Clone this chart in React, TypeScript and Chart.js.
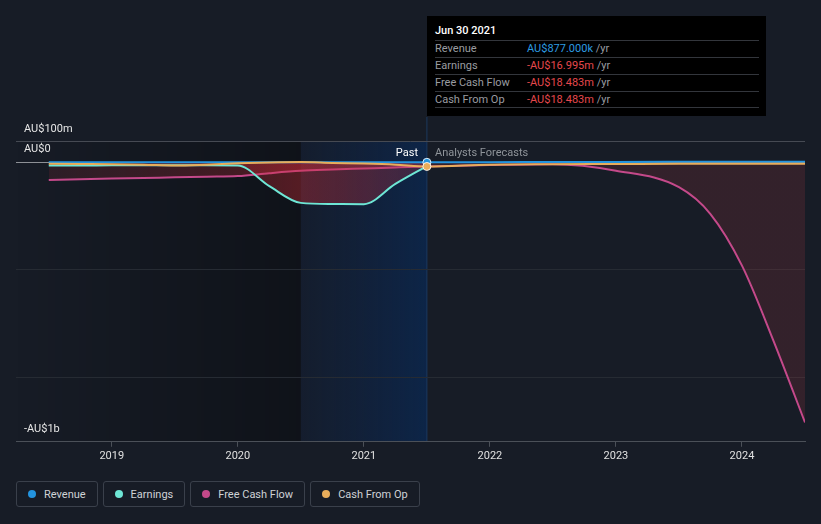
import React, { useEffect, useRef } from "react";
import { Chart, registerables } from "chart.js";

Chart.register(...registerables);

// ---------- data (values in AU$ millions, x in decimal years) ----------
const pastYears = [2018.5, 2018.75, 2019, 2019.25, 2019.5, 2019.75, 2020, 2020.25, 2020.5, 2020.75, 2021, 2021.25, 2021.5];
const revenuePast = [1.2, 1.1, 1.0, 1.0, 0.9, 0.9, 0.8, 0.8, 0.9, 0.9, 0.9, 0.9, 0.877];
const earningsPast = [-14, -14, -13, -13, -13, -13, -14, -110, -188, -193, -194, -100, -16.995];
const fcfPast = [-81, -78, -75, -72, -69, -66, -63, -50, -39, -33, -28, -23, -18.483];
const cfoPast = [-6, -7, -8, -10, -14, -10, -4, 0, 2, -2, -5, -10, -18.483];

const forecastYears = [2021.5, 2022, 2022.5, 2023, 2023.5, 2023.75, 2024, 2024.25, 2024.5];
const revenueForecast = [0.877, 1.5, 2, 2.5, 3, 3.2, 3.5, 3.8, 4];
const fcfForecast = [-18.483, -12, -8, -38, -115, -240, -480, -830, -1210];
const cfoForecast = [-18.483, -10, -8, -7, -6, -6, -6, -6, -6];

const xTickYears = [2019, 2020, 2021, 2022, 2023, 2024];
const yGridValues = [100, 0, -500, -1000];
const yLabelTop = "AU$100m";
const yLabelZero = "AU$0";
const yLabelBottom = "-AU$1b";
const yMin = -1300;
const yMax = 100;
const xMin = 2018.24;
const xMax = 2024.5;
const pastShadeStart = 2020.5;
const nowYear = 2021.5;

const legendItems = [
  { label: "Revenue", color: "#2394df" },
  { label: "Earnings", color: "#6ee6d5" },
  { label: "Free Cash Flow", color: "#c4498a" },
  { label: "Cash From Op", color: "#e8ad5b" },
];

const tooltipTitle = "Jun 30 2021";
const tooltipRows = [
  { label: "Revenue", value: "AU$877.000k", color: "#2d9be0" },
  { label: "Earnings", value: "-AU$16.995m", color: "#e5484d" },
  { label: "Free Cash Flow", value: "-AU$18.483m", color: "#e5484d" },
  { label: "Cash From Op", value: "-AU$18.483m", color: "#e5484d" },
];

const BG = "#171c26";
const FONT = "Roboto, 'Noto Sans', sans-serif";

function pts(xs: number[], ys: number[]) {
  return xs.map((x, i) => ({ x, y: ys[i] }));
}

function fillGradient(ctx: any) {
  const chart = ctx.chart;
  const a = chart.chartArea;
  const x = chart.scales.x;
  if (!a || !x) return "rgba(190,60,70,0.17)";
  const c = chart.ctx as CanvasRenderingContext2D;
  const g = c.createLinearGradient(a.left, 0, a.right, 0);
  const w = a.right - a.left;
  const pos = (v: number) => Math.min(1, Math.max(0, (x.getPixelForValue(v) - a.left) / w));
  g.addColorStop(pos(2018.5), "rgba(200,50,60,0.13)");
  g.addColorStop(pos(2020.0), "rgba(205,45,55,0.27)");
  g.addColorStop(pos(2020.5), "rgba(210,45,55,0.36)");
  g.addColorStop(pos(2021.49), "rgba(190,50,70,0.26)");
  g.addColorStop(pos(2021.55), "rgba(190,60,70,0.17)");
  g.addColorStop(1, "rgba(190,60,70,0.17)");
  return g;
}

const shadePlugin = {
  id: "shade",
  beforeDraw(chart: any) {
    const { ctx, chartArea: a, scales } = chart;
    const x = scales.x;
    const x0 = a.left;
    const x1 = x.getPixelForValue(pastShadeStart);
    const x2 = x.getPixelForValue(nowYear);
    ctx.save();
    let g = ctx.createLinearGradient(x0, 0, x1, 0);
    g.addColorStop(0, "rgba(0,0,0,0)");
    g.addColorStop(1, "rgba(0,0,0,0.33)");
    ctx.fillStyle = g;
    ctx.fillRect(x0, a.top, x1 - x0, a.bottom - a.top);
    g = ctx.createLinearGradient(x1, 0, x2, 0);
    g.addColorStop(0, "rgba(10,40,90,0.15)");
    g.addColorStop(1, "rgba(5,45,100,0.55)");
    ctx.fillStyle = g;
    ctx.fillRect(x1, a.top, x2 - x1, a.bottom - a.top);
    ctx.strokeStyle = "rgba(28,60,100,0.75)";
    ctx.lineWidth = 1.2;
    ctx.beginPath();
    ctx.moveTo(x2, 117);
    ctx.lineTo(x2, a.bottom);
    ctx.stroke();
    ctx.restore();
  },
  afterDraw(chart: any) {
    const { ctx, chartArea: a, scales } = chart;
    const y = scales.y;
    ctx.save();
    ctx.font = `11px ${FONT}`;
    ctx.fillStyle = "#e6e6e6";
    ctx.textBaseline = "middle";
    ctx.textAlign = "left";
    ctx.fillText(yLabelTop, 24, y.getPixelForValue(yMax) - 12);
    ctx.fillText(yLabelZero, 24, y.getPixelForValue(0) - 13.5);
    ctx.fillText(yLabelBottom, 24, a.bottom - 12.5);
    ctx.restore();
  },
};

export default function App() {
  const ref = useRef<HTMLCanvasElement>(null);

  useEffect(() => {
    document.body.style.margin = "0";
    const pointR = (c: any) => (c.raw && c.raw.x === nowYear ? 4 : 0);
    const chart = new Chart(ref.current!, {
      type: "line",
      data: {
        datasets: [
          {
            label: "Revenue",
            data: [...pts(pastYears, revenuePast), ...pts(forecastYears.slice(1), revenueForecast.slice(1))],
            borderColor: legendItems[0].color,
            backgroundColor: legendItems[0].color,
            borderWidth: 2,
            pointRadius: pointR,
            pointBorderColor: "rgba(255,255,255,0.85)",
            pointBorderWidth: 1,
            fill: false,
          },
          {
            label: "Earnings",
            data: pts(pastYears, earningsPast),
            borderColor: legendItems[1].color,
            backgroundColor: fillGradient,
            borderWidth: 2,
            pointRadius: 0,
            fill: "origin",
          },
          {
            label: "Free Cash Flow",
            data: [...pts(pastYears, fcfPast), ...pts(forecastYears.slice(1), fcfForecast.slice(1))],
            borderColor: legendItems[2].color,
            backgroundColor: fillGradient,
            borderWidth: 2,
            pointRadius: 0,
            fill: "origin",
          },
          {
            label: "Cash From Op",
            data: [...pts(pastYears, cfoPast), ...pts(forecastYears.slice(1), cfoForecast.slice(1))],
            borderColor: legendItems[3].color,
            backgroundColor: legendItems[3].color,
            borderWidth: 2,
            pointRadius: pointR,
            pointBorderColor: "rgba(255,255,255,0.85)",
            pointBorderWidth: 1,
            fill: false,
            order: -1,
          },
        ],
      },
      options: {
        responsive: false,
        animation: false,
        events: [],
        parsing: false as any,
        elements: { line: { cubicInterpolationMode: "monotone" } },
        layout: { padding: { left: 16, right: 16, top: 141, bottom: 0 } },
        plugins: { legend: { display: false }, tooltip: { enabled: false } },
        scales: {
          x: {
            type: "linear",
            min: xMin,
            max: xMax,
            afterBuildTicks: (s: any) => {
              s.ticks = xTickYears.map((v) => ({ value: v }));
            },
            ticks: {
              callback: (v: any) => String(v),
              color: "#e0e0e0",
              font: { family: FONT, size: 11 },
              padding: 3,
              maxRotation: 0,
              autoSkip: false,
            },
            grid: { drawOnChartArea: false, drawTicks: true, tickLength: 5, color: "#4b5058" },
            border: { display: true, color: "#4b5058" },
          },
          y: {
            type: "linear",
            min: yMin,
            max: yMax,
            afterBuildTicks: (s: any) => {
              s.ticks = yGridValues.map((v) => ({ value: v }));
            },
            ticks: { display: false },
            grid: {
              drawTicks: false,
              color: (c: any) => {
                const v = c.tick && c.tick.value;
                if (v === 0) return "#8d9096";
                if (v === yMax) return "#464a53";
                return "#262b33";
              },
            },
            border: { display: false },
          },
        },
      },
      plugins: [shadePlugin],
    });
    return () => chart.destroy();
  }, []);

  return (
    <div
      style={{
        position: "fixed",
        left: 0,
        top: 0,
        width: 821,
        height: 524,
        background: BG,
        overflow: "hidden",
        fontFamily: FONT,
      }}
    >
      <canvas ref={ref} width={821} height={466} style={{ position: "absolute", left: 0, top: 0, width: 821, height: 466 }} />

      {/* Past / Forecast labels */}
      <div style={{ position: "absolute", right: 821 - 418, top: 145, fontSize: 11, lineHeight: "16px", color: "#ffffff" }}>Past</div>
      <div style={{ position: "absolute", left: 435, top: 145, fontSize: 11, lineHeight: "16px", color: "#8f949a" }}>Analysts Forecasts</div>

      {/* Tooltip */}
      <div style={{ position: "absolute", left: 427, top: 16, width: 339, height: 100, background: "#000" }}>
        <div style={{ position: "absolute", left: 8, top: 6, fontSize: 11, lineHeight: "18px", color: "#fff", fontWeight: 500 }}>
          {tooltipTitle}
        </div>
        {tooltipRows.map((r, i) => (
          <div
            key={r.label}
            style={{
              position: "absolute",
              left: 8,
              width: 324,
              top: 24 + i * 17,
              height: 17,
              boxSizing: "border-box",
              borderTop: "1px solid #33363c",
              borderBottom: i === tooltipRows.length - 1 ? "1px solid #33363c" : "none",
              fontSize: 11,
              lineHeight: "16px",
            }}
          >
            <span style={{ position: "absolute", left: 0, top: 0, color: "#9a9ca0" }}>{r.label}</span>
            <span style={{ position: "absolute", left: 92, top: 0, whiteSpace: "nowrap" }}>
              <span style={{ color: r.color }}>{r.value}</span>
              <span style={{ color: "#9a9ca0" }}> /yr</span>
            </span>
          </div>
        ))}
      </div>

      {/* Legend */}
      <div style={{ position: "absolute", left: 16, top: 481, display: "flex", gap: 5 }}>
        {legendItems.map((it) => (
          <div
            key={it.label}
            style={{
              height: 26,
              boxSizing: "border-box",
              border: "1px solid #3a404b",
              borderRadius: 3,
              padding: "0 11px",
              display: "flex",
              alignItems: "center",
              fontSize: 11,
              color: "#cfd2d6",
            }}
          >
            <span style={{ width: 8, height: 8, borderRadius: 4, background: it.color, marginRight: 8, display: "inline-block" }} />
            {it.label}
          </div>
        ))}
      </div>
    </div>
  );
}
